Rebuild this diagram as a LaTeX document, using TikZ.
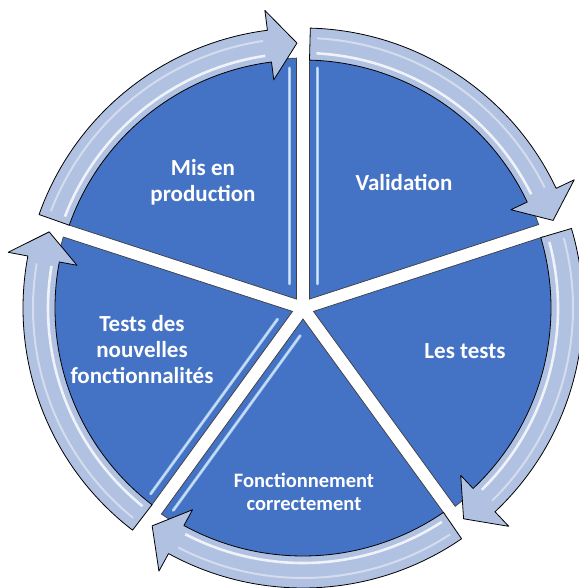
\documentclass[tikz,border=0pt]{standalone}
\usepackage{fontspec}
\setmainfont{Carlito}
\usetikzlibrary{calc}
\definecolor{wedgeblue}{HTML}{4472C4}
\definecolor{arrowfill}{HTML}{B1C1E1}
\definecolor{hilite}{HTML}{A9CBF0}
\newcommand\mywedge[1]{%
  \fill[wedgestyle] ({#1+36}:11) -- ({#1+1.5}:250) arc[start angle={#1+1.5}, end angle={#1+70.5}, radius=250] -- cycle;}
\newcommand\myarrow[2]{%
  \filldraw[arrowstyle] ({#1-1.5}:248) arc[start angle={#1-1.5}, end angle={#2+7.3}, radius=248]
    -- ({#2+7.3}:230) -- ({#2+1.3}:265) -- ({#2+7.3}:300) -- ({#2+7.3}:280)
    arc[start angle={#2+7.3}, end angle={#1-1.5}, radius=280] -- cycle;
  \draw[white, opacity=.8, line width=2.6] ({#1-3}:255) arc[start angle={#1-3}, end angle={#2+8.5}, radius=255];
  \draw[white, opacity=.45, line width=2] ({#1-3}:270) arc[start angle={#1-3}, end angle={#2+8.5}, radius=270];}
\newcommand\myhl[3]{% edge angle, normal angle
  \draw[hl] ($(#1:#3)+(#2:14)$) -- ($(#1:240)+(#2:14)$);
  \draw[hlcore] ($(#1:#3)+(#2:14)$) -- ($(#1:240)+(#2:14)$);}
\begin{document}
\begin{tikzpicture}[x=1pt,y=1pt,
  wedgestyle/.style={fill=wedgeblue, draw=black!75, line width=0.7},
  arrowstyle/.style={fill=arrowfill, draw=black, line width=0.8, line join=round},
  hl/.style={hilite, line width=3, line cap=round},
  hlcore/.style={white, opacity=.5, line width=0.9, line cap=round},
  lbl/.style={text=white, align=center, font=\bfseries\fontsize{23}{26}\selectfont}]
\useasboundingbox (-303,-280) rectangle (275,308);
\fill[white] (-303,-280) rectangle (275,308);
% wedges
\mywedge{90}
\mywedge{18}
\mywedge{-54}
\mywedge{-126}
\mywedge{162}
% highlights
\myhl{90}{180}{24}
\myhl{90}{0}{24}
\myhl{234}{144}{24}
\myhl{234}{-36}{24}
% arrows
\myarrow{162}{90}
\myarrow{90}{18}
\myarrow{18}{-54}
\myarrow{-54}{-126}
\myarrow{-126}{-198}
% labels
\node[lbl] (mis) at (-100,126) {Mis en\\production};
\node[lbl] (val) at (101,125) {Validation};
\node[lbl] (les) at (162,-43) {Les tests};
\node[lbl, font=\bfseries\fontsize{20.5}{23}\selectfont] (fon) at (1,-184) {Fonctionnement\\correctement};
\node[lbl] (tst) at (-161,-42) {Tests des\\nouvelles\\fonctionnalités};
\end{tikzpicture}
\end{document}
